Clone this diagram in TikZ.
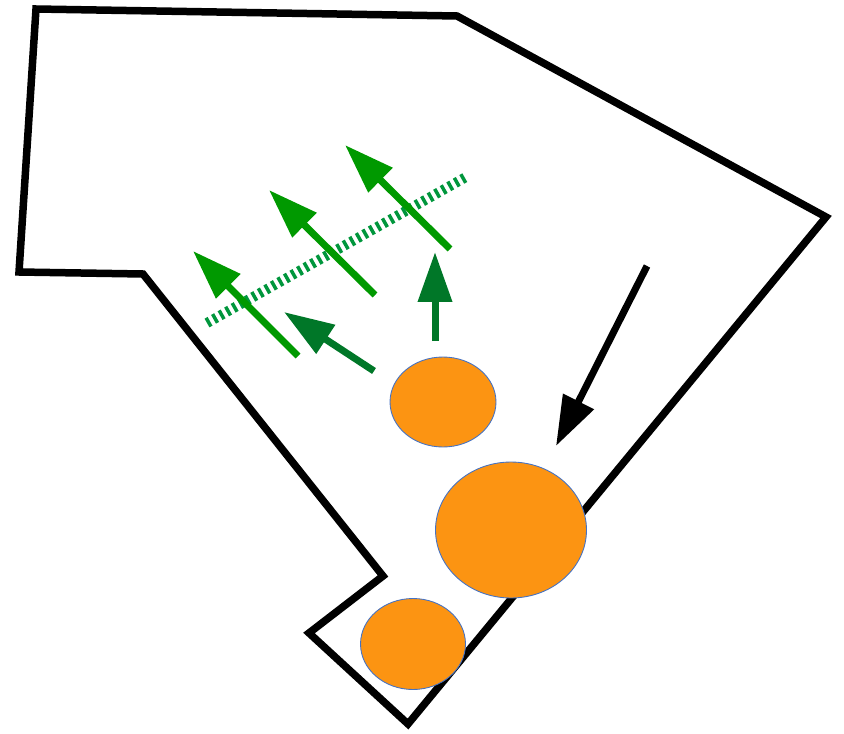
\documentclass[tikz,border=0pt]{standalone}
\usepackage{tikz}
\usetikzlibrary{arrows.meta,shapes.geometric}
\definecolor{Blob}{RGB}{252,148,18}
\definecolor{BlobEdge}{RGB}{68,114,196}
\definecolor{LeafGreen}{RGB}{0,153,0}
\definecolor{DeepGreen}{RGB}{0,119,40}
\definecolor{FrontGreen}{RGB}{0,150,60}

\begin{document}
\begin{tikzpicture}[
      x=0.02cm,y=-0.02cm,
      wall/.style={draw=black,line width=0.15cm,line join=miter},
      blob/.style={ellipse,draw=BlobEdge,fill=Blob,line width=0.5pt,inner sep=0pt},
      flow/.style={-{Triangle[length=1cm,width=0.66cm]},line width=0.14cm},
      front/.style={draw=FrontGreen,line width=0.2cm,dash pattern=on 0.07cm off 0.08cm}
    ]
    \useasboundingbox (0,0) rectangle (844,733);

    % Outline
    \draw[wall] (36,9) -- (457,16) -- (826,217) -- (408,724) -- (309,633)
      -- (383,576) -- (143,274) -- (19,272) -- cycle;

    % Blobs
    \node(b1)[blob,minimum width=2.12cm,minimum height=1.80cm] at (443,402) {};
    \node(b2)[blob,minimum width=3.02cm,minimum height=2.72cm] at (511,530) {};
    \node(b3)[blob,minimum width=2.10cm,minimum height=1.82cm] at (413,644) {};

    % Arrow ends
    \coordinate (k0) at (647,266);
    \coordinate (k1) at (556,446);
    \coordinate (g1a) at (298,356);
    \coordinate (g1b) at (193,251);
    \coordinate (g2a) at (375,295);
    \coordinate (g2b) at (269,190);
    \coordinate (g3a) at (450,249);
    \coordinate (g3b) at (345,145);
    \coordinate (d1a) at (374,371);
    \coordinate (d1b) at (284,312);
    \coordinate (d2a) at (435,341);
    \coordinate (d2b) at (435,252);
    \coordinate (f0) at (207,323);
    \coordinate (f1) at (466,177);

    % Dashed front
    \draw[front] (f0) -- (f1);

    % Green arrows
    \draw[flow,color=LeafGreen] (g1a) -- (g1b);
    \draw[flow,color=LeafGreen] (g2a) -- (g2b);
    \draw[flow,color=LeafGreen] (g3a) -- (g3b);
    \draw[flow,color=DeepGreen] (d1a) -- (d1b);
    \draw[flow,color=DeepGreen] (d2a) -- (d2b);

    % Black arrow
    \draw[flow,color=black] (k0) -- (k1);
  \end{tikzpicture}
\end{document}
